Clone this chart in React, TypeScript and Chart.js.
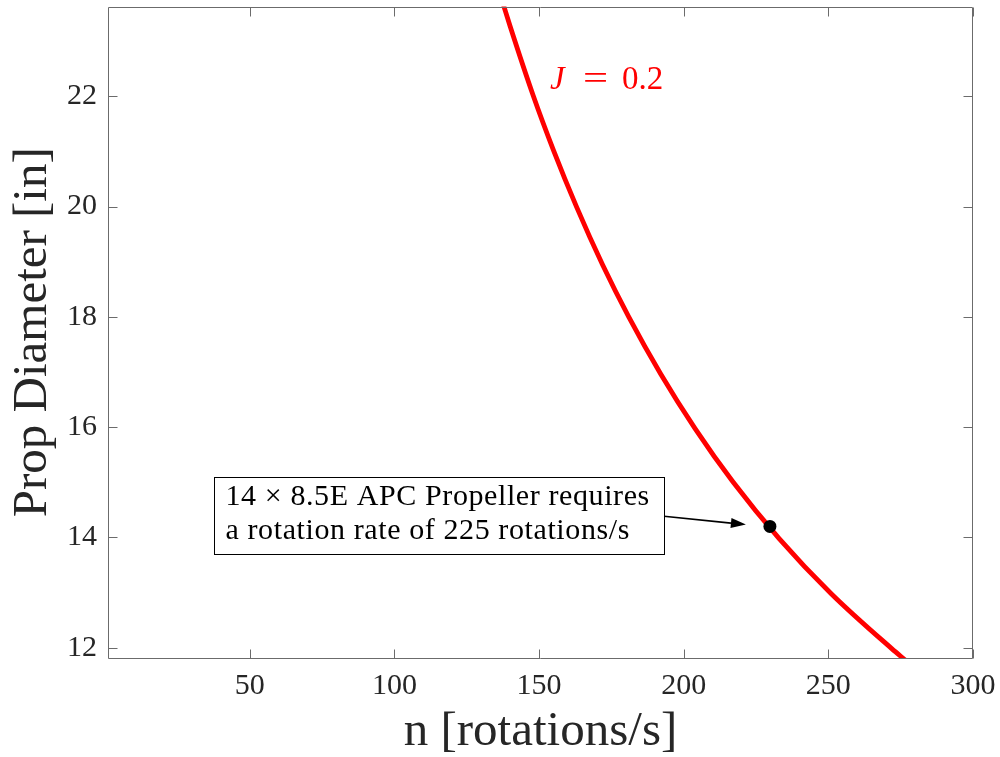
import React, { useEffect, useRef } from "react";
import { Chart, registerables } from "chart.js";

Chart.register(...registerables);

// ---- data ----
const curveN = [137.5, 140, 148, 155, 163, 172, 181, 192, 204, 217, 233, 251, 272, 276.5];
const curveD = [23.69, 23.27, 22.01, 21.02, 19.99, 18.94, 18.0, 16.97, 15.97, 15.01, 13.98, 12.98, 11.98, 11.78];
const pointN = [229.8];
const pointD = [14.2];
const xTicks = [50, 100, 150, 200, 250, 300];
const yTicks = [12, 14, 16, 18, 20, 22];
const xRange = [1, 300];
const yRange = [11.814, 23.628];
const xTitle = "n [rotations/s]";
const yTitle = "Prop Diameter [in]";
const curveLabelParts = ["J", "=", "0.2"];
const curveLabelPos = [153.8, 22.13]; // n, D (data units)
const noteLines = ["14 × 8.5E APC Propeller requires", "a rotation rate of 225 rotations/s"];
const noteBox = [37.8, 15.094, 193.2, 13.695]; // n1, D1, n2, D2 (data units)
const arrowFrom = [193.2, 14.383];
const arrowTo = [221.5, 14.233];

const FONT = '"Liberation Serif", "DejaVu Serif", serif';
const RED = "#ff0000";
const TEXT = "#262626";
const FRAME = "#6b6b6b";

const overlayPlugin = {
  id: "overlay",
  afterDatasetsDraw(chart: any) {
    const ctx = chart.ctx as CanvasRenderingContext2D;
    const xs = chart.scales.x;
    const ys = chart.scales.y;
    const a = chart.chartArea;
    ctx.save();

    // frame
    const L = Math.round(a.left) + 0.5;
    const R = Math.round(a.right) - 0.5;
    const T = Math.round(a.top) + 0.5;
    const B = Math.round(a.bottom) + 0.5;
    ctx.strokeStyle = FRAME;
    ctx.lineWidth = 1;
    ctx.beginPath();
    ctx.rect(L, T, R - L, B - T);
    ctx.stroke();
    // inward ticks on all four sides
    const tl = 9;
    ctx.beginPath();
    xs.ticks.forEach((t: any) => {
      const px = Math.round(xs.getPixelForValue(t.value)) + 0.5;
      ctx.moveTo(px, B);
      ctx.lineTo(px, B - tl);
      ctx.moveTo(px, T);
      ctx.lineTo(px, T + tl);
    });
    ys.ticks.forEach((t: any) => {
      const py = Math.round(ys.getPixelForValue(t.value)) + 0.5;
      ctx.moveTo(L, py);
      ctx.lineTo(L + tl, py);
      ctx.moveTo(R, py);
      ctx.lineTo(R - tl, py);
    });
    ctx.stroke();

    // curve label  J = 0.2
    const lx = xs.getPixelForValue(curveLabelPos[0]);
    const ly = ys.getPixelForValue(curveLabelPos[1]);
    ctx.fillStyle = RED;
    ctx.textBaseline = "alphabetic";
    ctx.textAlign = "left";
    ctx.font = `italic 33px ${FONT}`;
    ctx.fillText(curveLabelParts[0], lx, ly);
    ctx.font = `33px ${FONT}`;
    ctx.save();
    ctx.translate(lx + 33, ly);
    ctx.scale(1.35, 1);
    ctx.fillText(curveLabelParts[1], 0, 0);
    ctx.restore();
    ctx.fillText(curveLabelParts[2], lx + 72, ly);

    // note box
    const bx1 = Math.round(xs.getPixelForValue(noteBox[0])) + 0.5;
    const by1 = Math.round(ys.getPixelForValue(noteBox[1])) + 0.5;
    const bx2 = Math.round(xs.getPixelForValue(noteBox[2])) + 0.5;
    const by2 = Math.round(ys.getPixelForValue(noteBox[3])) + 0.5;
    ctx.fillStyle = "#ffffff";
    ctx.fillRect(bx1, by1, bx2 - bx1, by2 - by1);
    ctx.strokeStyle = "#000000";
    ctx.lineWidth = 1;
    ctx.strokeRect(bx1, by1, bx2 - bx1, by2 - by1);
    ctx.fillStyle = "#000000";
    ctx.font = `30px ${FONT}`;
    try { (ctx as any).letterSpacing = "0.6px"; } catch (e) {}
    ctx.fillText(noteLines[0], bx1 + 11, by1 + 27.5);
    ctx.fillText(noteLines[1], bx1 + 11, by1 + 61.5);
    try { (ctx as any).letterSpacing = "0px"; } catch (e) {}

    // arrow
    const ax1 = xs.getPixelForValue(arrowFrom[0]);
    const ay1 = ys.getPixelForValue(arrowFrom[1]);
    const ax2 = xs.getPixelForValue(arrowTo[0]);
    const ay2 = ys.getPixelForValue(arrowTo[1]);
    const ang = Math.atan2(ay2 - ay1, ax2 - ax1);
    const hl = 15;
    const hw = 5;
    const bxh = ax2 - hl * Math.cos(ang);
    const byh = ay2 - hl * Math.sin(ang);
    ctx.strokeStyle = "#000000";
    ctx.lineWidth = 1.6;
    ctx.beginPath();
    ctx.moveTo(ax1, ay1);
    ctx.lineTo(bxh, byh);
    ctx.stroke();
    ctx.beginPath();
    ctx.moveTo(ax2, ay2);
    ctx.lineTo(bxh - hw * Math.sin(ang), byh + hw * Math.cos(ang));
    ctx.lineTo(bxh + hw * Math.sin(ang), byh - hw * Math.cos(ang));
    ctx.closePath();
    ctx.fill();

    ctx.restore();
  },
};

const noPad = (s: any) => {
  s.paddingTop = 0;
  s.paddingBottom = 0;
  s.paddingLeft = 0;
  s.paddingRight = 0;
};

export default function App() {
  const ref = useRef<HTMLCanvasElement | null>(null);
  useEffect(() => {
    if (!ref.current) return;
    const chart = new Chart(ref.current, {
      type: "scatter",
      data: {
        datasets: [
          {
            label: "point",
            data: pointN.map((n, i) => ({ x: n, y: pointD[i] })),
            backgroundColor: "#000000",
            borderColor: "#000000",
            pointRadius: 6.5,
            pointBorderWidth: 0,
            showLine: false,
            clip: false as any,
          },
          {
            label: "J = 0.2",
            data: curveN.map((n, i) => ({ x: n, y: curveD[i] })),
            borderColor: RED,
            backgroundColor: RED,
            borderWidth: 4.8,
            pointRadius: 0,
            showLine: true,
            cubicInterpolationMode: "monotone",
            clip: 0 as any,
          },
        ],
      },
      options: {
        animation: false,
        responsive: false,
        devicePixelRatio: 1,
        layout: { padding: { top: 5, right: 27, left: 0, bottom: 0 } },
        plugins: { legend: { display: false }, tooltip: { enabled: false } },
        scales: {
          x: {
            type: "linear",
            min: xRange[0],
            max: xRange[1],
            afterBuildTicks: (s: any) => {
              s.ticks = xTicks.map((v) => ({ value: v }));
            },
            afterFit: (s: any) => {
              s.height = 99;
              noPad(s);
            },
            grid: { display: false, drawTicks: false },
            border: { display: false },
            ticks: {
              font: { family: FONT, size: 30 },
              color: TEXT,
              padding: 10,
              maxRotation: 0,
              autoSkip: false,
            },
            title: {
              display: true,
              text: xTitle,
              color: TEXT,
              font: { family: FONT, size: 49, lineHeight: 1 },
              padding: { top: 0, bottom: 0 },
            },
          },
          y: {
            type: "linear",
            min: yRange[0],
            max: yRange[1],
            afterBuildTicks: (s: any) => {
              s.ticks = yTicks.map((v) => ({ value: v }));
            },
            afterFit: (s: any) => {
              s.width = 108;
              noPad(s);
            },
            grid: { display: false, drawTicks: false },
            border: { display: false },
            ticks: {
              font: { family: FONT, size: 30 },
              color: TEXT,
              padding: 11,
              autoSkip: false,
            },
            title: {
              display: true,
              text: yTitle,
              color: TEXT,
              font: { family: FONT, size: 49, lineHeight: 1 },
              padding: { top: 9, bottom: 0 },
            },
          },
        },
      },
      plugins: [overlayPlugin],
    });
    return () => chart.destroy();
  }, []);

  return (
    <div style={{ position: "fixed", left: 0, top: 0, width: 1000, height: 757, background: "#ffffff" }}>
      <canvas ref={ref} width={1000} height={757} style={{ width: 1000, height: 757, display: "block" }} />
    </div>
  );
}
